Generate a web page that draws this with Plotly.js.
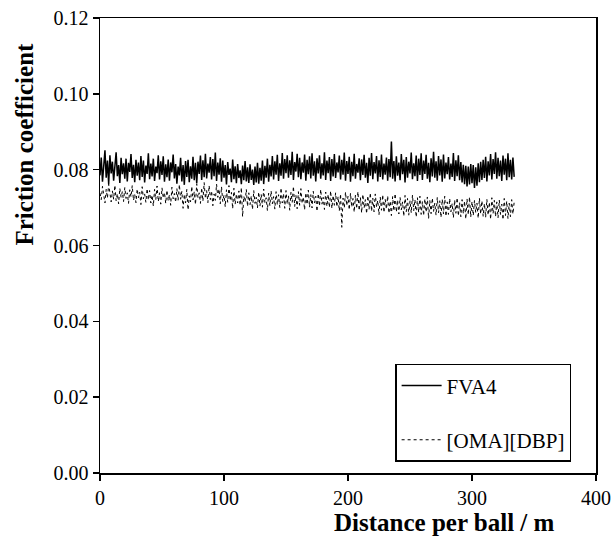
<!DOCTYPE html>
<html>
<head>
<meta charset="utf-8">
<script src="https://cdn.plot.ly/plotly-3.0.1.min.js"></script>
<style>html,body{margin:0;padding:0;background:#fff;}#chart{width:615px;height:540px;}</style>
</head>
<body>
<div id="chart"></div>
<script>
var distance = [
0,1,2,3,4,5,6,7,8,9,10,11,12,13,14,15,16,17,18,19,20,21,22,23,24,25,26,27,28,29,
30,31,32,33,34,35,36,37,38,39,40,41,42,43,44,45,46,47,48,49,50,51,52,53,54,55,56,57,58,59,
60,61,62,63,64,65,66,67,68,69,70,71,72,73,74,75,76,77,78,79,80,81,82,83,84,85,86,87,88,89,
90,91,92,93,94,95,96,97,98,99,100,101,102,103,104,105,106,107,108,109,110,111,112,113,114,115,116,117,118,119,
120,121,122,123,124,125,126,127,128,129,130,131,132,133,134,135,136,137,138,139,140,141,142,143,144,145,146,147,148,149,
150,151,152,153,154,155,156,157,158,159,160,161,162,163,164,165,166,167,168,169,170,171,172,173,174,175,176,177,178,179,
180,181,182,183,184,185,186,187,188,189,190,191,192,193,194,195,196,197,198,199,200,201,202,203,204,205,206,207,208,209,
210,211,212,213,214,215,216,217,218,219,220,221,222,223,224,225,226,227,228,229,230,231,232,233,234,235,236,237,238,239,
240,241,242,243,244,245,246,247,248,249,250,251,252,253,254,255,256,257,258,259,260,261,262,263,264,265,266,267,268,269,
270,271,272,273,274,275,276,277,278,279,280,281,282,283,284,285,286,287,288,289,290,291,292,293,294,295,296,297,298,299,
300,301,302,303,304,305,306,307,308,309,310,311,312,313,314,315,316,317,318,319,320,321,322,323,324,325,326,327,328,329,
330,331,332,333,334];

var fva4 = [
0.0785,0.0832,0.0768,0.0815,0.0851,0.0779,0.0824,0.0762,0.0838,0.0790,
0.0821,0.0771,0.0809,0.0846,0.0783,0.0812,0.0765,0.0831,0.0788,0.0817,
0.0776,0.0829,0.0769,0.0818,0.0794,0.0841,0.0778,0.0813,0.0767,0.0826,
0.0784,0.0819,0.0772,0.0836,0.0781,0.0824,0.0766,0.0811,0.0789,0.0843,
0.0775,0.0816,0.0782,0.0829,0.0770,0.0808,0.0791,0.0838,0.0774,0.0822,
0.0786,0.0835,0.0768,0.0814,0.0780,0.0827,0.0771,0.0819,0.0793,0.0840,
0.0777,0.0815,0.0763,0.0808,0.0785,0.0831,0.0769,0.0812,0.0760,0.0823,
0.0781,0.0826,0.0767,0.0809,0.0776,0.0834,0.0772,0.0818,0.0764,0.0821,
0.0789,0.0837,0.0773,0.0825,0.0780,0.0842,0.0777,0.0816,0.0792,0.0833,
0.0774,0.0828,0.0783,0.0845,0.0770,0.0819,0.0787,0.0830,0.0768,0.0824,
0.0779,0.0812,0.0761,0.0820,0.0786,0.0803,0.0767,0.0827,0.0775,0.0809,
0.0764,0.0815,0.0778,0.0798,0.0762,0.0811,0.0772,0.0823,0.0769,0.0806,
0.0765,0.0814,0.0773,0.0800,0.0760,0.0808,0.0766,0.0818,0.0763,0.0805,
0.0771,0.0824,0.0762,0.0810,0.0779,0.0829,0.0768,0.0813,0.0782,0.0836,
0.0774,0.0822,0.0787,0.0839,0.0770,0.0817,0.0784,0.0844,0.0776,0.0828,
0.0791,0.0838,0.0779,0.0825,0.0786,0.0847,0.0773,0.0820,0.0795,0.0842,
0.0780,0.0831,0.0775,0.0819,0.0792,0.0840,0.0771,0.0826,0.0788,0.0835,
0.0777,0.0843,0.0784,0.0822,0.0769,0.0830,0.0790,0.0838,0.0776,0.0817,
0.0785,0.0846,0.0773,0.0824,0.0791,0.0833,0.0770,0.0828,0.0782,0.0841,
0.0778,0.0819,0.0793,0.0837,0.0774,0.0826,0.0787,0.0845,0.0771,0.0823,
0.0789,0.0834,0.0768,0.0821,0.0783,0.0842,0.0776,0.0815,0.0792,0.0830,
0.0772,0.0827,0.0786,0.0839,0.0779,0.0818,0.0765,0.0831,0.0784,0.0844,
0.0775,0.0820,0.0790,0.0836,0.0769,0.0825,0.0781,0.0840,0.0774,0.0816,
0.0787,0.0832,0.0771,0.0828,0.0780,0.0874,0.0776,0.0823,0.0769,0.0835,
0.0784,0.0819,0.0772,0.0841,0.0788,0.0826,0.0766,0.0833,0.0779,0.0821,
0.0790,0.0845,0.0775,0.0817,0.0783,0.0837,0.0770,0.0829,0.0786,0.0843,
0.0773,0.0824,0.0789,0.0839,0.0776,0.0818,0.0767,0.0830,0.0782,0.0847,
0.0779,0.0822,0.0771,0.0836,0.0785,0.0827,0.0768,0.0840,0.0777,0.0819,
0.0788,0.0833,0.0774,0.0816,0.0781,0.0844,0.0770,0.0825,0.0783,0.0838,
0.0772,0.0820,0.0766,0.0813,0.0762,0.0810,0.0756,0.0808,0.0761,0.0815,
0.0764,0.0812,0.0752,0.0806,0.0758,0.0817,0.0767,0.0821,0.0773,0.0826,
0.0778,0.0834,0.0769,0.0822,0.0785,0.0841,0.0774,0.0828,0.0789,0.0846,
0.0776,0.0831,0.0783,0.0824,0.0770,0.0837,0.0787,0.0829,0.0772,0.0843,
0.0780,0.0826,0.0774,0.0832,0.0781];

var omaDbp = [
0.0738,0.0721,0.0756,0.0729,0.0712,0.0748,0.0725,0.0762,0.0731,0.0715,
0.0744,0.0722,0.0759,0.0718,0.0737,0.0710,0.0751,0.0727,0.0742,0.0716,
0.0753,0.0724,0.0739,0.0711,0.0747,0.0728,0.0758,0.0719,0.0735,0.0713,
0.0749,0.0726,0.0741,0.0708,0.0755,0.0723,0.0736,0.0714,0.0750,0.0720,
0.0745,0.0712,0.0733,0.0704,0.0748,0.0721,0.0757,0.0716,0.0739,0.0709,
0.0752,0.0725,0.0740,0.0711,0.0746,0.0718,0.0734,0.0706,0.0754,0.0723,
0.0737,0.0714,0.0750,0.0719,0.0761,0.0722,0.0743,0.0698,0.0735,0.0712,
0.0748,0.0694,0.0731,0.0715,0.0756,0.0720,0.0742,0.0708,0.0763,0.0726,
0.0739,0.0711,0.0752,0.0717,0.0766,0.0724,0.0745,0.0713,0.0758,0.0721,
0.0744,0.0705,0.0736,0.0719,0.0762,0.0727,0.0749,0.0710,0.0755,0.0716,
0.0733,0.0702,0.0747,0.0714,0.0758,0.0718,0.0740,0.0697,0.0751,0.0709,
0.0736,0.0712,0.0744,0.0706,0.0753,0.0676,0.0730,0.0715,0.0748,0.0703,
0.0739,0.0708,0.0731,0.0695,0.0745,0.0711,0.0727,0.0699,0.0741,0.0704,
0.0735,0.0701,0.0749,0.0713,0.0726,0.0692,0.0738,0.0705,0.0744,0.0710,
0.0729,0.0696,0.0742,0.0707,0.0734,0.0700,0.0752,0.0712,0.0737,0.0698,
0.0745,0.0709,0.0731,0.0693,0.0740,0.0714,0.0756,0.0703,0.0733,0.0697,
0.0742,0.0706,0.0750,0.0711,0.0728,0.0694,0.0739,0.0708,0.0746,0.0701,
0.0734,0.0699,0.0743,0.0712,0.0730,0.0690,0.0737,0.0704,0.0748,0.0709,
0.0727,0.0695,0.0741,0.0703,0.0735,0.0700,0.0744,0.0698,0.0732,0.0706,
0.0739,0.0702,0.0729,0.0691,0.0736,0.0648,0.0725,0.0699,0.0741,0.0705,
0.0730,0.0694,0.0738,0.0701,0.0724,0.0688,0.0733,0.0697,0.0742,0.0692,
0.0727,0.0686,0.0735,0.0699,0.0721,0.0684,0.0731,0.0695,0.0739,0.0690,
0.0725,0.0689,0.0736,0.0702,0.0719,0.0681,0.0728,0.0693,0.0734,0.0687,
0.0722,0.0696,0.0731,0.0685,0.0717,0.0679,0.0729,0.0691,0.0737,0.0688,
0.0720,0.0683,0.0727,0.0694,0.0715,0.0677,0.0732,0.0689,0.0724,0.0680,
0.0718,0.0686,0.0733,0.0692,0.0721,0.0675,0.0726,0.0687,0.0730,0.0682,
0.0716,0.0679,0.0723,0.0688,0.0728,0.0671,0.0719,0.0684,0.0725,0.0690,
0.0712,0.0680,0.0727,0.0686,0.0718,0.0674,0.0722,0.0683,0.0730,0.0677,
0.0715,0.0682,0.0724,0.0689,0.0711,0.0673,0.0720,0.0685,0.0726,0.0678,
0.0713,0.0676,0.0721,0.0684,0.0717,0.0670,0.0723,0.0681,0.0728,0.0675,
0.0716,0.0679,0.0719,0.0687,0.0712,0.0672,0.0725,0.0683,0.0718,0.0677,
0.0711,0.0674,0.0722,0.0680,0.0714,0.0669,0.0726,0.0684,0.0719,0.0676,
0.0715,0.0673,0.0720,0.0682,0.0709,0.0668,0.0724,0.0679,0.0717,0.0671,
0.0712,0.0676,0.0721,0.0683,0.0714];

var seriesNames = ['FVA4', '[OMA][DBP]'];
var xTicks = [0, 100, 200, 300, 400];
var yTicks = [0, 0.02, 0.04, 0.06, 0.08, 0.10, 0.12];
var xTitle = 'Distance per ball / m';
var yTitle = 'Friction coefficient';

var font = 'Liberation Serif';

var traces = [
  {x: distance, y: fva4, name: seriesNames[0], type: 'scatter', mode: 'lines',
   line: {color: '#000', width: 1.5}, legendgroup: 'a'},
  {x: distance, y: omaDbp, name: seriesNames[1], type: 'scatter', mode: 'lines',
   line: {color: '#000', width: 1, dash: 'dot'}, legendgroup: 'b'}
];

var layout = {
  width: 615, height: 540,
  margin: {l: 100, r: 19, t: 18, b: 67},
  paper_bgcolor: '#fff', plot_bgcolor: '#fff',
  font: {family: font, size: 20, color: '#000'},
  showlegend: true,
  legend: {x: 0.595, y: 0.24, xanchor: 'left', yanchor: 'top',
           bordercolor: '#000', borderwidth: 1.5, bgcolor: '#fff',
           font: {family: font, size: 21, color: '#000'},
           tracegroupgap: 24, itemwidth: 40},
  xaxis: {range: [0, 400], tickvals: xTicks, ticktext: xTicks.map(String),
          showline: true, linecolor: '#000', linewidth: 1.5, mirror: true,
          ticks: 'outside', ticklen: 6, tickcolor: '#000', tickwidth: 1.5,
          showgrid: false, zeroline: false,
          tickfont: {family: font, size: 20, color: '#000'}},
  yaxis: {range: [0, 0.12], tickvals: yTicks, ticktext: yTicks.map(function(v){return v.toFixed(2);}),
          showline: true, linecolor: '#000', linewidth: 1.5, mirror: true,
          ticks: 'outside', ticklen: 6, tickcolor: '#000', tickwidth: 1.5,
          showgrid: false, zeroline: false,
          tickfont: {family: font, size: 20, color: '#000'}},
  annotations: [
    {text: '<b>' + xTitle + '</b>', xref: 'paper', yref: 'paper', x: 0.694, y: -0.108,
     xanchor: 'center', yanchor: 'middle', showarrow: false,
     font: {family: font, size: 25, color: '#000'}},
    {text: '<b>' + yTitle + '</b>', xref: 'paper', yref: 'paper', x: -0.153, y: 0.722,
     xanchor: 'center', yanchor: 'middle', showarrow: false, textangle: -90,
     font: {family: font, size: 25, color: '#000'}}
  ]
};

Plotly.newPlot('chart', traces, layout, {displayModeBar: false, staticPlot: true});
</script>
</body>
</html>
